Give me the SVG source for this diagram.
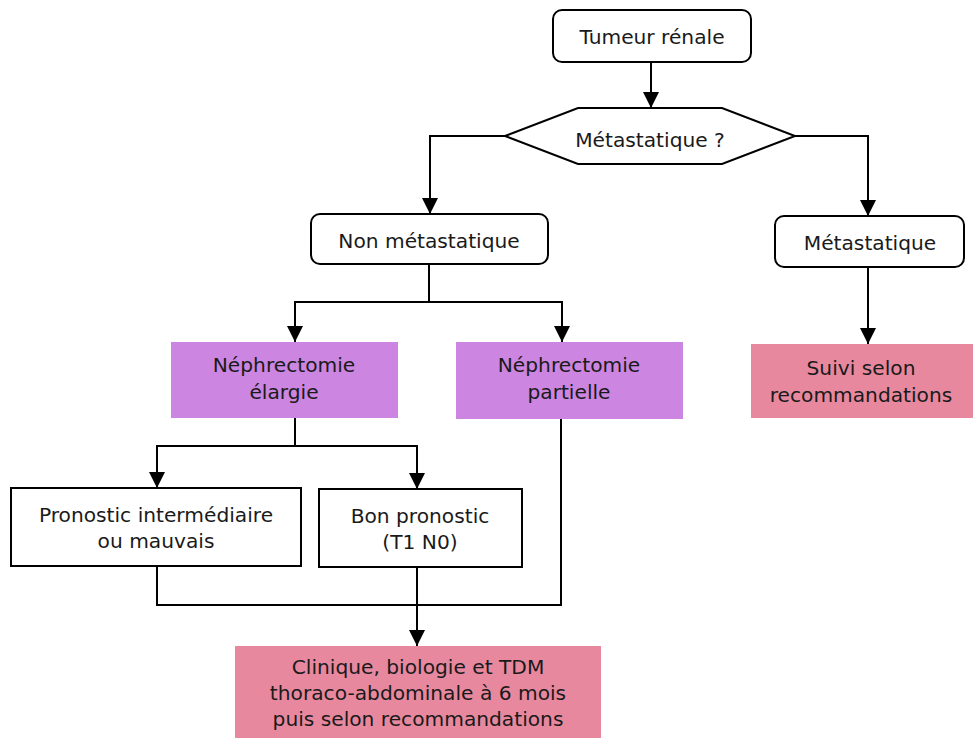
<svg xmlns="http://www.w3.org/2000/svg" width="973" height="740" viewBox="0 0 973 740">
  <style>
    .box { fill: #ffffff; stroke: #000000; stroke-width: 2; }
    .purple { fill: #cc85e0; }
    .pink { fill: #e8889f; }
    .lbl { font-family: "DejaVu Sans", "Liberation Sans", sans-serif; font-size: 20.2px; fill: #1a1a1a; text-anchor: middle; }
    .wire { fill: none; stroke: #000000; stroke-width: 2; }
  </style>
  <defs>
    <marker id="head" viewBox="0 0 16 16" refX="16" refY="8" markerWidth="16" markerHeight="16" markerUnits="userSpaceOnUse" orient="auto">
      <path d="M0,0 L16,8 L0,16 Z" fill="#000000"/>
    </marker>
  </defs>
  <rect width="973" height="740" fill="#ffffff"/>

  <g id="connectors">
    <path class="wire" d="M651,62 V108" marker-end="url(#head)"/>
    <path class="wire" d="M505,136 H430 V214" marker-end="url(#head)"/>
    <path class="wire" d="M795,136 H868 V216" marker-end="url(#head)"/>
    <path class="wire" d="M429,264 V302 H295 V342" marker-end="url(#head)"/>
    <path class="wire" d="M429,302 H562 V342" marker-end="url(#head)"/>
    <path class="wire" d="M868,267 V344" marker-end="url(#head)"/>
    <path class="wire" d="M295,418 V446 H157 V488" marker-end="url(#head)"/>
    <path class="wire" d="M295,446 H417 V489" marker-end="url(#head)"/>
    <path class="wire" d="M157,566 V605 H561 V419"/>
    <path class="wire" d="M417,567 V646" marker-end="url(#head)"/>
  </g>

  <g id="tumeur">
    <rect class="box" x="553" y="10" width="198" height="52" rx="9"/>
    <text class="lbl" x="652" y="44">Tumeur rénale</text>
  </g>

  <g id="question">
    <polygon class="box" points="505,136 578,108 722,108 795,136 722,164 578,164"/>
    <text class="lbl" x="650" y="147">Métastatique ?</text>
  </g>

  <g id="non-metastatique">
    <rect class="box" x="311" y="214" width="237" height="50" rx="9"/>
    <text class="lbl" x="429" y="248">Non métastatique</text>
  </g>

  <g id="metastatique">
    <rect class="box" x="775" y="216" width="189" height="51" rx="9"/>
    <text class="lbl" x="870" y="250">Métastatique</text>
  </g>

  <g id="nephrectomie-elargie">
    <rect class="purple" x="171" y="342" width="227" height="76"/>
    <text class="lbl" x="284" y="372">Néphrectomie</text>
    <text class="lbl" x="284" y="399">élargie</text>
  </g>

  <g id="nephrectomie-partielle">
    <rect class="purple" x="456" y="342" width="227" height="77"/>
    <text class="lbl" x="569" y="372">Néphrectomie</text>
    <text class="lbl" x="569" y="399">partielle</text>
  </g>

  <g id="suivi">
    <rect class="pink" x="751" y="344" width="222" height="74"/>
    <text class="lbl" x="861" y="375">Suivi selon</text>
    <text class="lbl" x="861" y="402">recommandations</text>
  </g>

  <g id="pronostic-mauvais">
    <rect class="box" x="11" y="488" width="290" height="78"/>
    <text class="lbl" x="156" y="522">Pronostic intermédiaire</text>
    <text class="lbl" x="156" y="548">ou mauvais</text>
  </g>

  <g id="bon-pronostic">
    <rect class="box" x="319" y="489" width="203" height="78"/>
    <text class="lbl" x="420" y="523">Bon pronostic</text>
    <text class="lbl" x="420" y="549">(T1 N0)</text>
  </g>

  <g id="surveillance">
    <rect class="pink" x="235" y="646" width="366" height="92"/>
    <text class="lbl" x="418" y="674">Clinique, biologie et TDM</text>
    <text class="lbl" x="418" y="700">thoraco-abdominale à 6 mois</text>
    <text class="lbl" x="418" y="726">puis selon recommandations</text>
  </g>
</svg>
